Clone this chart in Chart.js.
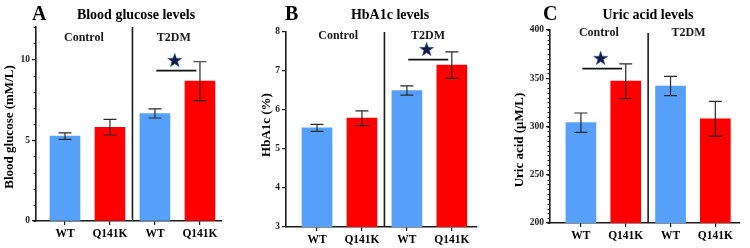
<!DOCTYPE html>
<html>
<head>
<meta charset="utf-8">
<script src="https://cdn.jsdelivr.net/npm/chart.js@4.4.0/dist/chart.umd.min.js"></script>
<style>
  body { margin: 0; background: #fff; width: 750px; height: 248px; position: relative; overflow: hidden; }
  canvas { position: absolute; top: 0; }
</style>
</head>
<body>
<canvas id="panelA" width="250" height="248" style="left:0"></canvas>
<canvas id="panelB" width="250" height="248" style="left:250px"></canvas>
<canvas id="panelC" width="250" height="248" style="left:500px"></canvas>
<script>
// categories
const groups = ['Control', 'T2DM'];
const genotypes = ['WT', 'Q141K', 'WT', 'Q141K'];
const barColors = ['#56a0f9', '#ff0000', '#56a0f9', '#ff0000'];

// blood glucose (mM/L)
const glucoseMean = [5.25, 5.8, 6.65, 8.65];
const glucoseErr = [0.2, 0.48, 0.28, 1.2];
const glucoseTicks = [0, 5, 10];
const glucoseSig = [2, 3, 9.3];   // from bar, to bar, bracket height

// HbA1c (%)
const hba1cMean = [5.54, 5.79, 6.5, 7.15];
const hba1cErr = [0.09, 0.19, 0.12, 0.34];
const hba1cTicks = [3, 4, 5, 6, 7, 8];
const hba1cSig = [2, 3, 7.29];

// uric acid (µM/L)
const uricMean = [304, 347, 342, 308];
const uricErr = [10, 18, 10, 18];
const uricTicks = [200, 250, 300, 350, 400];
const uricSig = [0, 1, 360];

const SERIF = '"Liberation Serif", "Times New Roman", serif';
const INK = '#1a1a1a';

function drawStar(ctx, cx, cy, r1, r2) {
    ctx.beginPath();
    for (let i = 0; i < 10; i++) {
        const r = i % 2 ? r2 : r1;
        const a = -Math.PI / 2 + i * Math.PI / 5;
        ctx.lineTo(cx + r * Math.cos(a), cy + r * Math.sin(a));
    }
    ctx.closePath();
    ctx.fillStyle = '#0f1d46';
    ctx.fill();
    ctx.strokeStyle = 'rgba(60,100,170,0.6)';
    ctx.lineWidth = 0.8;
    ctx.stroke();
}

const panelPlugin = {
    id: 'panelDecor',
    afterDatasetsDraw(chart) {
        const p = chart.options.plugins.panelDecor;
        const { ctx, chartArea } = chart;
        const x = chart.scales.x, y = chart.scales.y;
        ctx.save();

        // error bars
        ctx.strokeStyle = '#2a2a2a';
        ctx.lineWidth = 1.2;
        p.mean.forEach((m, i) => {
            const px = x.getPixelForValue(i);
            const top = y.getPixelForValue(m + p.err[i]);
            const bot = y.getPixelForValue(m - p.err[i]);
            ctx.beginPath();
            ctx.moveTo(px, top); ctx.lineTo(px, bot);
            ctx.moveTo(px - 6.5, top); ctx.lineTo(px + 6.5, top);
            ctx.moveTo(px - 6.5, bot); ctx.lineTo(px + 6.5, bot);
            ctx.stroke();
        });

        // group divider
        const dx = x.getPixelForValue(1.5);
        ctx.strokeStyle = INK;
        ctx.lineWidth = 1.6;
        ctx.beginPath();
        ctx.moveTo(dx, chartArea.top + p.dividerGap);
        ctx.lineTo(dx, chartArea.bottom);
        ctx.stroke();

        // group labels
        ctx.fillStyle = INK;
        ctx.font = 'bold 12px ' + SERIF;
        ctx.textAlign = 'center';
        ctx.textBaseline = 'middle';
        groups.forEach((g, i) => {
            ctx.fillText(g, x.getPixelForValue(i * 2 + p.groupShift), p.groupY);
        });

        // significance bracket and star
        const [a, b, h] = p.sig;
        const ly = y.getPixelForValue(h);
        ctx.strokeStyle = '#111';
        ctx.lineWidth = 1.8;
        ctx.beginPath();
        ctx.moveTo(x.getPixelForValue(a + 0.03), ly);
        ctx.lineTo(x.getPixelForValue(b - 0.08), ly);
        ctx.stroke();
        drawStar(ctx, x.getPixelForValue(a + 0.44), ly - 10, 7.5, 3);

        ctx.restore();
    },
    afterDraw(chart) {
        const p = chart.options.plugins.panelDecor;
        const { ctx } = chart;
        const y = chart.scales.y;
        ctx.save();
        ctx.fillStyle = '#000';
        ctx.textBaseline = 'middle';

        // panel letter and title
        ctx.textAlign = 'left';
        ctx.font = 'bold 20px ' + SERIF;
        ctx.fillText(p.letter, p.letterX, 15);
        ctx.textAlign = 'center';
        ctx.font = 'bold 14px ' + SERIF;
        ctx.fillText(p.title, p.titleX, 15);

        // y axis title
        ctx.save();
        ctx.translate(p.yTitleX, p.yTitleY);
        ctx.rotate(-Math.PI / 2);
        ctx.font = 'bold 13px ' + SERIF;
        ctx.fillText(p.yTitle, 0, 0);
        ctx.restore();

        // minor ticks
        if (p.minorStep) {
            ctx.strokeStyle = INK;
            ctx.lineWidth = 1;
            ctx.beginPath();
            for (let v = y.min; v <= y.max + 1e-9; v += p.minorStep) {
                const py = Math.round(y.getPixelForValue(v)) + 0.5;
                ctx.moveTo(y.right - 2.5, py);
                ctx.lineTo(y.right, py);
            }
            ctx.stroke();
        }
        ctx.restore();
    }
};

function makePanel(id, cfg) {
    const W = 250, H = 248;
    return new Chart(document.getElementById(id), {
        type: 'bar',
        data: {
            datasets: [{
                data: cfg.mean.map((m, i) => ({ x: i, y: m })),
                backgroundColor: barColors,
                barThickness: 30,
                borderWidth: 0
            }]
        },
        plugins: [panelPlugin],
        options: {
            responsive: false,
            animation: false,
            layout: { padding: { top: cfg.box.top, right: W - cfg.box.right, left: 0, bottom: 0 } },
            plugins: {
                legend: { display: false },
                tooltip: { enabled: false },
                panelDecor: cfg
            },
            scales: {
                x: {
                    type: 'linear',
                    offset: false,
                    min: cfg.xMin,
                    max: cfg.xMax,
                    afterBuildTicks: s => { s.ticks = genotypes.map((g, i) => ({ value: i })); },
                    afterFit: s => { s.height = H - cfg.box.bottom; },
                    border: { display: true, color: INK, width: 1.6 },
                    grid: { display: true, offset: false, drawOnChartArea: false, drawTicks: true, tickLength: 4, color: INK, lineWidth: 1.2 },
                    ticks: {
                        color: '#000',
                        padding: 2,
                        maxRotation: 0,
                        autoSkip: false,
                        font: { family: SERIF, size: 11.5, weight: 'bold' },
                        callback: v => genotypes[v]
                    }
                },
                y: {
                    min: cfg.ticks[0],
                    max: cfg.yMax,
                    afterBuildTicks: s => { s.ticks = cfg.ticks.map(v => ({ value: v })); },
                    afterFit: s => { s.width = cfg.box.left; },
                    border: { display: true, color: INK, width: 1.6 },
                    grid: { display: true, drawOnChartArea: false, drawTicks: true, tickLength: 4, color: INK, lineWidth: 1.2 },
                    ticks: {
                        color: '#222',
                        padding: 2,
                        font: { family: SERIF, size: 9.5, weight: 'bold' }
                    }
                }
            }
        }
    });
}

makePanel('panelA', {
    letter: 'A', letterX: 32, title: 'Blood glucose levels', titleX: 136,
    yTitle: 'Blood glucose (mM/L)', yTitleX: 10, yTitleY: 127,
    mean: glucoseMean, err: glucoseErr, ticks: glucoseTicks, yMax: 12, sig: glucoseSig,
    minorStep: 1, dividerGap: 0, groupShift: 0.42, groupY: 38,
    xMin: -0.644, xMax: 3.49,
    box: { left: 36, right: 222, top: 27, bottom: 221 }
});

makePanel('panelB', {
    letter: 'B', letterX: 35, title: 'HbA1c levels', titleX: 140,
    yTitle: 'HbA1c (%)', yTitleX: 17, yTitleY: 125,
    mean: hba1cMean, err: hba1cErr, ticks: hba1cTicks, yMax: 8, sig: hba1cSig,
    minorStep: 0, dividerGap: 0, groupShift: 0.47, groupY: 36,
    xMin: -0.69, xMax: 3.56,
    box: { left: 36, right: 227, top: 32, bottom: 227 }
});

makePanel('panelC', {
    letter: 'C', letterX: 43, title: 'Uric acid levels', titleX: 148,
    yTitle: 'Uric acid (μM/L)', yTitleX: 20, yTitleY: 140,
    mean: uricMean, err: uricErr, ticks: uricTicks, yMax: 400, sig: uricSig,
    minorStep: 5, dividerGap: 3, groupShift: 0.40, groupY: 33,
    xMin: -0.69, xMax: 3.55,
    box: { left: 50, right: 240, top: 30, bottom: 223 }
});
</script>
</body>
</html>
